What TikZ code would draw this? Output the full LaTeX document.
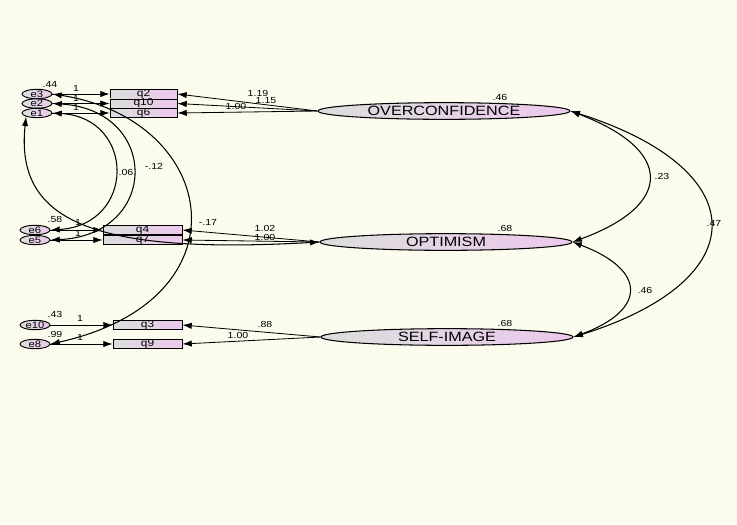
\documentclass[tikz,border=0pt]{standalone}
\usepackage{fontspec}
\setmainfont{Liberation Sans}
\newfontfamily\widefont[FakeStretch=1.2]{Liberation Sans}
\usetikzlibrary{shapes.geometric,arrows.meta}
\definecolor{paper}{RGB}{252,252,238}
\definecolor{lgray}{RGB}{220,222,220}
\definecolor{lpink}{RGB}{236,200,236}
\tikzset{
  latent/.style={ellipse,draw,line width=0.9pt,left color=lgray,right color=lpink,minimum width=7.56cm,minimum height=0.5cm,inner sep=0pt,font=\widefont\fontsize{11.5}{11.5}\selectfont},
  err/.style={ellipse,draw,line width=0.8pt,left color=lgray,right color=lpink,minimum width=0.9cm,minimum height=0.25cm,inner sep=0pt,font=\widefont\fontsize{8}{8}\selectfont},
  item/.style={rectangle,draw,line width=0.7pt,left color=lgray,right color=lpink,minimum height=0.22cm,inner sep=0pt,font=\widefont\fontsize{8.5}{8.5}\selectfont},
  lbl/.style={font=\widefont\fontsize{7.5}{7.5}\selectfont,inner sep=0pt},
  path/.style={line width=0.7pt,-{Latex[length=2.8mm,width=1.9mm]}},
  cov/.style={line width=0.9pt,{Latex[length=2.8mm,width=1.9mm]}-{Latex[length=2.8mm,width=1.9mm]}}
}
\begin{document}
\begin{tikzpicture}[x=0.03cm,y=-0.03cm]
\useasboundingbox (0,0) rectangle (737,524);
\fill[paper] (0,0) rectangle (737,524);
% latent variables
\node[latent] (over) at (444,111) {OVERCONFIDENCE};
\node[latent] (opt) at (446,242) {OPTIMISM};
\node[latent] (self) at (447,337) {SELF-IMAGE};
% items
\node[item,minimum width=2.01cm] (q2) at (143.5,94) {q2};
\node[item,minimum width=2.01cm] (q10) at (143.5,103.5) {q10};
\node[item,minimum width=2.01cm] (q6) at (143.5,113) {q6};
\node[item,minimum width=2.37cm] (q4) at (142.5,230) {q4};
\node[item,minimum width=2.37cm] (q7) at (142.5,240) {q7};
\node[item,minimum width=2.07cm] (q3) at (147.5,325) {q3};
\node[item,minimum width=2.07cm] (q9) at (147.5,344) {q9};
% errors
\node[err] (e3) at (37,94) {e3};
\node[err] (e2) at (37,103.5) {e2};
\node[err] (e1) at (37,113) {e1};
\node[err] (e6) at (35,230) {e6};
\node[err] (e5) at (35,240) {e5};
\node[err] (e10) at (35,325) {e10};
\node[err] (e8) at (35,344) {e8};
% loadings
\draw[path] (over.west) -- (q2.east);
\draw[path] (over.west) -- (q10.east);
\draw[path] (over.west) -- (q6.east);
\draw[path] (opt.west) -- (q4.east);
\draw[path] (opt.west) -- (q7.east);
\draw[path] (self.west) -- (q3.east);
\draw[path] (self.west) -- (q9.east);
\foreach \e/\q in {e3/q2,e2/q10,e1/q6,e6/q4,e5/q7,e10/q3,e8/q9}
  \draw[path] (\e.east) -- (\q.west);
% covariances
\draw[cov] (over.east) .. controls (674,150) and (674,205) .. (opt.east);
\draw[cov] (over.east) .. controls (756,170) and (756,280) .. (self.east);
\draw[cov] (opt.east) .. controls (647,270) and (647,310) .. (self.east);
\draw[cov] (e3.east) .. controls (220,120) and (250,300) .. (e8.east);
\draw[cov] (e2.east) .. controls (160,110) and (160,235) .. (e5.east);
\draw[cov] (e1.east) .. controls (136,118) and (136,225) .. (e6.east);
\draw[cov] (e1.south west) .. controls (15,220) and (90,255) .. (opt.west);
% estimates
\node[lbl] (v1) at (500,97) {.46};
\node[lbl] (v2) at (505,228) {.68};
\node[lbl] (v3) at (505,323) {.68};
\node[lbl] (l1) at (258,93) {1.19};
\node[lbl] (l2) at (266,101) {1.15};
\node[lbl] (l3) at (236,106) {1.00};
\node[lbl] (l4) at (265,228) {1.02};
\node[lbl] (l5) at (265,237) {1.00};
\node[lbl] (l6) at (208,222) {-.17};
\node[lbl] (l7) at (265,324) {.88};
\node[lbl] (l8) at (238,335) {1.00};
\node[lbl] (ve3) at (50,84) {.44};
\node[lbl] (ve6) at (55,219) {.58};
\node[lbl] (ve10) at (55,314) {.43};
\node[lbl] (ve8) at (55,334) {.99};
\node[lbl] (f1) at (76,88) {1};
\node[lbl] (f2) at (76,98) {1};
\node[lbl] (f3) at (76,107) {1};
\node[lbl] (f4) at (78,222) {1};
\node[lbl] (f5) at (78,233) {1};
\node[lbl] (f6) at (80,318) {1};
\node[lbl] (f7) at (80,337) {1};
\node[lbl] (c1) at (662,176) {.23};
\node[lbl] (c2) at (714,223) {.47};
\node[lbl] (c3) at (645,290) {.46};
\node[lbl] (c4) at (126,172) {.06};
\node[lbl] (c5) at (154,166) {-.12};
\end{tikzpicture}
\end{document}
